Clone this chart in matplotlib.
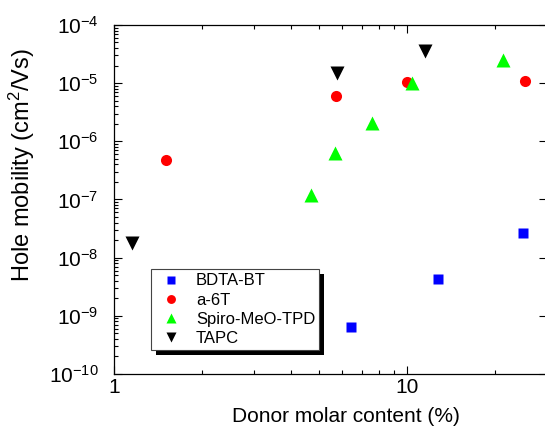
import numpy as np
import matplotlib
matplotlib.use("Agg")
import matplotlib.pyplot as plt
from matplotlib.patches import Rectangle
from matplotlib.ticker import LogLocator, NullFormatter

plt.rcParams['font.family'] = ['Liberation Sans', 'DejaVu Sans']
plt.rcParams['mathtext.fontset'] = 'custom'
plt.rcParams['mathtext.rm'] = 'Liberation Sans'
plt.rcParams['mathtext.it'] = 'Liberation Sans:italic'

# data
bdta_x = [6.43, 12.7, 24.8]
bdta_y = [6.4e-10, 4.3e-9, 2.7e-8]

a6t_x = [1.50, 5.72, 10.0, 25.3]
a6t_y = [4.8e-7, 6.0e-6, 1.03e-5, 1.1e-5]

spiro_x = [4.70, 5.68, 7.58, 10.4, 21.2]
spiro_y = [1.2e-7, 6.2e-7, 2.1e-6, 1.0e-5, 2.5e-5]

tapc_x = [1.15, 5.75, 11.5]
tapc_y = [1.82e-8, 1.48e-5, 3.6e-5]

x_ticks = [1, 10]
x_tick_labels = ['1', '10']

fig = plt.figure(figsize=(5.45, 4.43), dpi=100)
ax = fig.add_axes([0.2092, 0.1558, 0.7945, 0.7878])

ax.plot(bdta_x, bdta_y, 's', color='#0000ff', ms=6.5, mec='none', label='BDTA-BT')
ax.plot(a6t_x, a6t_y, 'o', color='#ff0000', ms=8, mec='none', label='a-6T')
ax.plot(spiro_x, spiro_y, '^', color='#00ff00', ms=9.5, mec='none', label='Spiro-MeO-TPD')
ax.plot(tapc_x, tapc_y, 'v', color='black', ms=9.5, mec='none', label='TAPC')

ax.set_xscale('log')
ax.set_yscale('log')
ax.set_xlim(1, 30)
ax.set_ylim(1e-10, 1e-4)

ax.set_xticks(x_ticks, x_tick_labels)
ax.xaxis.set_minor_locator(LogLocator(base=10, subs=np.arange(2, 10)))
ax.xaxis.set_minor_formatter(NullFormatter())
ax.yaxis.set_major_locator(LogLocator(base=10, numticks=10))
ax.yaxis.set_minor_locator(LogLocator(base=10, subs=np.arange(2, 10), numticks=20))
ax.yaxis.set_minor_formatter(NullFormatter())

ax.tick_params(which='both', direction='in', top=True, right=True, width=0.8, labelsize=15)
ax.tick_params(which='major', length=5.5)
ax.tick_params(which='minor', length=3)
ax.tick_params(axis='y', which='minor', right=False)
ax.tick_params(axis='x', pad=3)
ax.tick_params(axis='y', pad=11)

for s in ax.spines.values():
    s.set_linewidth(0.9)

ax.set_xlabel('Donor molar content (%)', fontsize=15)
ax.set_ylabel('Hole mobility (cm$^2$/Vs)', fontsize=17)
ax.xaxis.set_label_coords(0.536, -0.095)
ax.yaxis.set_label_coords(-0.178, 0.599)

leg = ax.legend(loc='upper left', bbox_to_anchor=(0.085, 0.300), borderaxespad=0,
                fontsize=12, fancybox=False, framealpha=1, edgecolor='#444444',
                borderpad=0.25, handlelength=1.9, handletextpad=0.55,
                labelspacing=0.25, markerscale=0.8)
leg.get_frame().set_linewidth(0.8)

# solid black drop shadow behind the legend
fig.canvas.draw()
bb = leg.get_window_extent()
shadow = Rectangle((bb.x0 + 5, bb.y0 - 5), bb.width, bb.height, transform=None,
                   facecolor='black', edgecolor='none', zorder=4.5)
ax.add_artist(shadow)

fig.savefig('out.png', dpi=100)
